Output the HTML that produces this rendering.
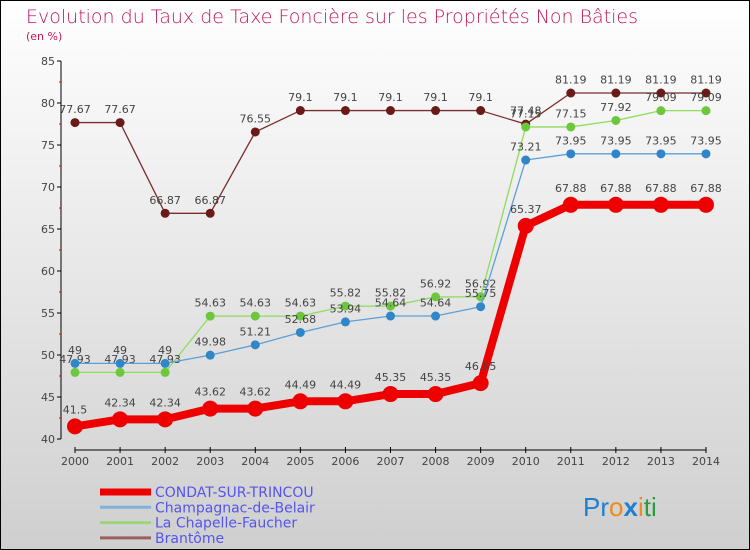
<!DOCTYPE html>
<html><head><meta charset="utf-8"><style>
html,body{margin:0;padding:0}
body{width:750px;height:550px;overflow:hidden;font-family:"DejaVu Sans","Liberation Sans",sans-serif}
</style></head><body>
<svg id="chart" width="750" height="550" xmlns="http://www.w3.org/2000/svg" style="display:block">
<defs><linearGradient id="bg" x1="0" y1="0" x2="0" y2="1"><stop offset="0" stop-color="#ffffff"/><stop offset="1" stop-color="#cfcfcf"/></linearGradient></defs>
<rect x="0.5" y="0.5" width="749" height="549" fill="url(#bg)" stroke="#000"/>
<text x="26" y="23" font-size="19" fill="#c2185b" style="font-weight:200">Evolution du Taux de Taxe Foncière sur les Propriétés Non Bâties</text>
<text x="26" y="40" font-size="11" fill="#c2185b">(en %)</text>
<g id="axes"></g>
<g id="series"></g>
<g id="legend"></g>
<text x="583" y="516" font-size="26" font-family="Liberation Sans, sans-serif"><tspan fill="#1e7fd0">Pr</tspan><tspan fill="#f08a1c">o</tspan><tspan fill="#1e7fd0" font-weight="bold">x</tspan><tspan fill="#f08a1c">i</tspan><tspan fill="#2a9d3a">ti</tspan></text>
</svg>
<script>
const years=[2000,2001,2002,2003,2004,2005,2006,2007,2008,2009,2010,2011,2012,2013,2014];
const yTicks=[40,45,50,55,60,65,70,75,80,85];
const seriesNames=["CONDAT-SUR-TRINCOU","Champagnac-de-Belair","La Chapelle-Faucher","Brantôme"];
const condat=[41.5,42.34,42.34,43.62,43.62,44.49,44.49,45.35,45.35,46.65,65.37,67.88,67.88,67.88,67.88];
const champagnac=[49,49,49,49.98,51.21,52.68,53.94,54.64,54.64,55.75,73.21,73.95,73.95,73.95,73.95];
const chapelle=[47.93,47.93,47.93,54.63,54.63,54.63,55.82,55.82,56.92,56.92,77.15,77.15,77.92,79.09,79.09];
const brantome=[77.67,77.67,66.87,66.87,76.55,79.1,79.1,79.1,79.1,79.1,77.48,81.19,81.19,81.19,81.19];
const NS="http://www.w3.org/2000/svg";
const X0=75,X1=706,Y0=439,Y1=61,VMIN=40,VMAX=85;
function xs(i){return X0+(X1-X0)*i/(years.length-1);}
function ys(v){return Y0-(v-VMIN)*(Y0-Y1)/(VMAX-VMIN);}
function mk(tag,attrs,parent){const e=document.createElementNS(NS,tag);for(const k in attrs)e.setAttribute(k,attrs[k]);parent.appendChild(e);return e;}
const axes=document.getElementById('axes');
const ya=mk('line',{x1:61,y1:Y1,x2:61,y2:Y0,stroke:'#000'},axes);


yTicks.forEach((t,i)=>{
  const y=ys(t);
  const tk=mk('line',{x1:57,y1:y,x2:61,y2:y,stroke:'#000'},axes);
  
  
  const lb=mk('text',{x:55,y:y+4,'font-size':11,fill:'#444','text-anchor':'end'},axes);
  lb.textContent=t;
  
  
  if(i<yTicks.length-1){
    const m=mk('line',{x1:59,y1:ys(t+2.5),x2:61,y2:ys(t+2.5),stroke:'#e00'},axes);
    
    
  }
});
const xa=mk('line',{x1:X0,y1:450,x2:X1,y2:450,stroke:'#000'},axes);


years.forEach((yr,i)=>{
  const x=xs(i);
  const tk=mk('line',{x1:x,y1:447,x2:x,y2:453,stroke:'#000'},axes);
  
  
  const lb=mk('text',{x:x,y:465,'font-size':11,fill:'#444','text-anchor':'middle'},axes);
  lb.textContent=yr;
  
  
});
const sg=document.getElementById('series');
const defs=[
 {d:brantome,c:'#7a2e2e',dot:'#6b1a1a',w:1.3,r:4.5,name:'brantome'},
 {d:chapelle,c:'#8fdc5a',dot:'#6cc73c',w:1.3,r:4.5,name:'chapelle-faucher'},
 {d:champagnac,c:'#5aa0d8',dot:'#2f86c8',w:1.3,r:4.5,name:'champagnac'},
 {d:condat,c:'#ee0000',dot:'#ee0000',w:8,r:8,name:'condat'}
];
defs.forEach(s=>{
  const g=mk('g',{},sg);
  
  
  const pts=s.d.map((v,i)=>xs(i)+','+ys(v)).join(' ');
  const pl=mk('polyline',{points:pts,fill:'none',stroke:s.c,'stroke-width':s.w,'stroke-linejoin':'round'},g);
  
  
  s.d.forEach((v,i)=>{
    const c=mk('circle',{cx:xs(i),cy:ys(v),r:s.r,fill:s.dot},g);
    
    
    const t=mk('text',{x:xs(i),y:ys(v)-(s.r+5),'font-size':11,fill:'#444','text-anchor':'middle'},g);
    t.textContent=String(v);
    
    
  });
});
const lg=document.getElementById('legend');
const lcol=['#ee0000','#7fb2d8','#9ed47a','#9a6060'];
const lw=[7,3,3,3];
seriesNames.forEach((n,i)=>{
  const y=492+i*15.3;
  const l=mk('line',{x1:100,y1:y,x2:151,y2:y,stroke:lcol[i],'stroke-width':lw[i]},lg);
  
  
  const t=mk('text',{x:155,y:y+5,'font-size':14,fill:'#5555ee'},lg);
  t.textContent=n;
  
  
});
</script>
</body></html>
